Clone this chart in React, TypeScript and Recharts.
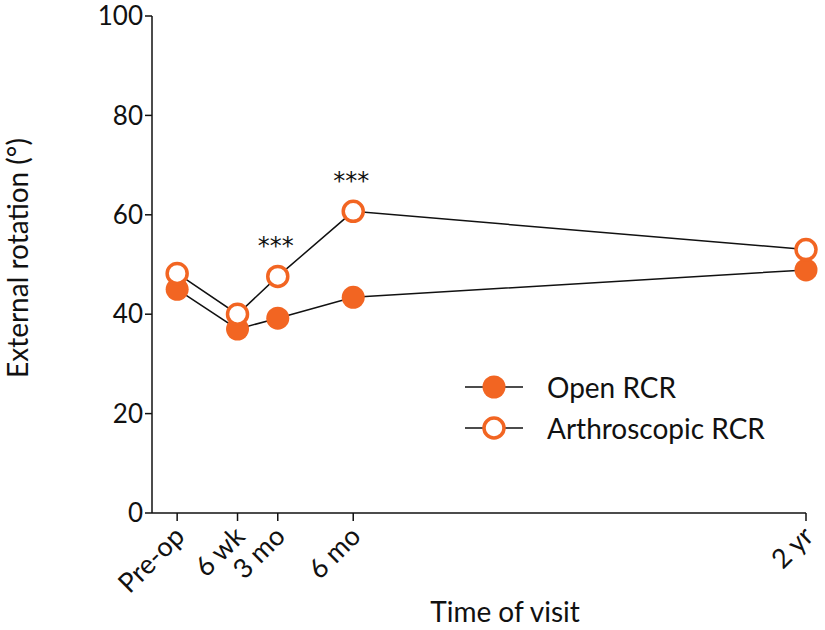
import { LineChart, Line, XAxis, YAxis, LabelList, Label } from 'recharts';

// visit times in months (pre-op plotted one month before surgery)
const visitMonths = [-1, 1.4, 3, 6, 24];
const visitLabels = ['Pre-op', '6 wk', '3 mo', '6 mo', '2 yr'];
const openRcr = [45, 37, 39.2, 43.4, 48.9];
const arthroRcr = [48.2, 40, 47.6, 60.7, 53];
const significance = ['', '', '***', '***', ''];
const yTicks = [0, 20, 40, 60, 80, 100];

const ORANGE = '#F26522';
const FONT = 'Lato, sans-serif';
const INK = '#111';

const data = visitMonths.map((m, i) => ({
  month: m,
  open: openRcr[i],
  arthro: arthroRcr[i],
  sig: significance[i],
}));

const FilledDot = (props: any) => {
  const { cx, cy, index } = props;
  return <circle key={'f' + index} cx={cx} cy={cy} r={11.5} fill={ORANGE} />;
};

const HollowDot = (props: any) => {
  const { cx, cy, index } = props;
  return <circle key={'h' + index} cx={cx} cy={cy} r={10} fill="#fff" stroke={ORANGE} strokeWidth={3.5} />;
};

const XTick = (props: any) => {
  const { x, y, payload } = props;
  const idx = visitMonths.indexOf(payload.value);
  const ax = x + 9;
  const ay = y + 15;
  return (
    <text
      x={ax}
      y={ay}
      transform={`rotate(-45 ${ax} ${ay})`}
      textAnchor="end"
      fontSize={27}
      fontFamily={FONT}
      fill={INK}
    >
      {visitLabels[idx]}
    </text>
  );
};

const Stars = (props: any) => {
  const { x, y, index } = props;
  const s = significance[index];
  if (!s) return null;
  return (
    <text x={x - 2} y={y - 22} textAnchor="middle" fontSize={24} fontFamily='"DejaVu Sans", sans-serif' fill={INK}>
      {s}
    </text>
  );
};

const legendItems = [
  { name: 'Open RCR', hollow: false },
  { name: 'Arthroscopic RCR', hollow: true },
];

const LegendBox = () => (
  <div style={{ position: 'absolute', left: 465, top: 366, fontFamily: FONT, fontSize: 28, color: INK }}>
    {legendItems.map((it) => (
      <div key={it.name} style={{ display: 'flex', alignItems: 'center', height: 41 }}>
        <svg width={58} height={30} style={{ marginRight: 24 }}>
          <line x1={0} y1={15} x2={58} y2={15} stroke={INK} strokeWidth={1.5} />
          {it.hollow ? (
            <circle cx={29} cy={15} r={10} fill="#fff" stroke={ORANGE} strokeWidth={3.5} />
          ) : (
            <circle cx={29} cy={15} r={11.5} fill={ORANGE} />
          )}
        </svg>
        <span style={{ whiteSpace: 'nowrap' }}>{it.name}</span>
      </div>
    ))}
  </div>
);

export default function App() {
  return (
    <div style={{ position: 'absolute', left: 0, top: 0, width: 825, height: 630, background: '#fff' }}>
      <LineChart width={825} height={630} data={data} margin={{ top: 16, right: 19, bottom: 37, left: 52 }}>
        <XAxis
          dataKey="month"
          type="number"
          domain={[-2, 24]}
          ticks={visitMonths}
          tick={<XTick />}
          tickLine={{ stroke: INK, strokeWidth: 1.5 }}
          tickSize={8}
          axisLine={{ stroke: INK, strokeWidth: 1.5 }}
          height={80}
        >
          <Label
            content={() => (
              <text x={505} y={622} textAnchor="middle" fontSize={28} fontFamily={FONT} fill={INK}>
                Time of visit
              </text>
            )}
          />
        </XAxis>
        <YAxis
          type="number"
          domain={[0, 100]}
          ticks={yTicks}
          tick={{ fontSize: 26, fontFamily: FONT, fill: INK }}
          tickLine={{ stroke: INK, strokeWidth: 1.5 }}
          tickSize={7}
          axisLine={{ stroke: INK, strokeWidth: 1.5 }}
          width={100}
        >
          <Label
            content={() => (
              <text
                x={28}
                y={258}
                transform="rotate(-90 28 258)"
                textAnchor="middle"
                fontSize={28}
                fontFamily={FONT}
                fill={INK}
              >
                External rotation (°)
              </text>
            )}
          />
        </YAxis>
        <Line
          dataKey="open"
          stroke={INK}
          strokeWidth={1.5}
          dot={<FilledDot />}
          activeDot={false}
          isAnimationActive={false}
        />
        <Line
          dataKey="arthro"
          stroke={INK}
          strokeWidth={1.5}
          dot={<HollowDot />}
          activeDot={false}
          isAnimationActive={false}
        >
          <LabelList dataKey="sig" content={<Stars />} />
        </Line>
      </LineChart>
      <LegendBox />
    </div>
  );
}
